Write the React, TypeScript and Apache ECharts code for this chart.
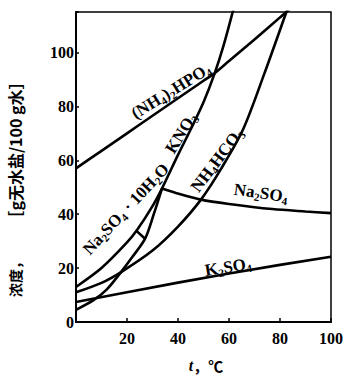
import React, { useEffect, useRef } from 'react';
import * as echarts from 'echarts';

// temperature (°C) / concentration (g anhydrous salt per 100 g water)
const xTickValues = [0, 20, 40, 60, 80, 100];
const yTickValues = [0, 20, 40, 60, 80, 100];

const nh42hpo4 = [[0, 57], [10, 63.5], [20, 70], [30, 76.5], [40, 83], [50, 89.5], [54.4, 92.3], [60, 96.8], [70, 104.8], [80, 113], [84, 116.2]];
const kno3 = [[0, 13], [10, 20], [20, 29.5], [24, 34.2], [30, 43], [33.7, 49.5], [40, 62], [45, 71.5], [50, 81.5], [54.4, 92.3], [58, 103], [62, 117]];
const nh4hco3 = [[0, 11], [10, 14.5], [18, 18.7], [30, 26.5], [40, 35.4], [49, 45.4], [57, 57], [65.5, 71.4], [74, 92.5], [82.5, 115], [84, 119]];
const na2so4Hydrate = [[0, 4.5], [7, 8.2], [12, 12], [17.8, 18.7], [22, 24], [27.1, 30.9], [30.5, 40], [33.7, 49.5]];
const na2so4 = [[33.7, 49.5], [39.4, 47.8], [49, 45.4], [60, 43.8], [77, 41.9], [90, 41], [100, 40.4]];
const k2so4 = [[0, 7.4], [20, 11], [40, 14.6], [60, 18], [80, 21.2], [100, 24.2]];
const connector = [[23.7, 33.8], [27.1, 30.9]];

const SERIF = 'Liberation Serif';
const CJK = 'Noto Sans CJK SC';

const richStyles = {
  n: { fontSize: 17, fontFamily: SERIF, fontWeight: 'bold', fill: '#000' },
  s: { fontSize: 11, fontFamily: SERIF, fontWeight: 'bold', fill: '#000', padding: [9, 0, 0, 0] },
};

function label(text: string, x: number, y: number, deg: number) {
  return {
    type: 'text',
    x,
    y,
    rotation: (deg * Math.PI) / 180,
    style: { text, rich: richStyles, align: 'center', verticalAlign: 'middle', fill: '#000' },
  };
}

function lineSeries(name: string, data: number[][], smooth: number | boolean = 0.3) {
  return {
    name,
    type: 'line',
    data,
    smooth,
    showSymbol: false,
    symbol: 'none',
    lineStyle: { color: '#000', width: 2.6 },
    clip: true,
  };
}

export default function App() {
  const ref = useRef<HTMLDivElement>(null);
  useEffect(() => {
    const chart = echarts.init(ref.current!, null, { renderer: 'svg' });
    chart.setOption({
      animation: false,
      backgroundColor: '#fff',
      grid: { left: 76, right: 8, top: 12, bottom: 53, show: true, borderColor: '#000', borderWidth: 1.5 },
      xAxis: {
        type: 'value',
        min: 0,
        max: 100,
        interval: 20,
        axisLine: { show: true, lineStyle: { color: '#000', width: 2 } },
        axisTick: { show: true, inside: true, length: 4, lineStyle: { color: '#000', width: 1.5 } },
        splitLine: { show: false },
        axisLabel: {
          margin: 8,
          color: '#000',
          fontFamily: SERIF,
          fontWeight: 'bold',
          fontSize: 16,
          formatter: (v: number) => (xTickValues.includes(v) && v !== 0 ? String(v) : ''),
        },
      },
      yAxis: {
        type: 'value',
        min: 0,
        max: 115,
        interval: 20,
        axisLine: { show: true, lineStyle: { color: '#000', width: 2 } },
        axisTick: { show: true, inside: true, length: 3, lineStyle: { color: '#000', width: 1.5 } },
        splitLine: { show: false },
        axisLabel: {
          margin: 2,
          color: '#000',
          fontFamily: SERIF,
          fontWeight: 'bold',
          fontSize: 16,
          formatter: (v: number) => (yTickValues.includes(v) ? String(v) : ''),
        },
      },
      series: [
        lineSeries('(NH4)2HPO4', nh42hpo4),
        lineSeries('KNO3', kno3),
        lineSeries('NH4HCO3', nh4hco3),
        lineSeries('Na2SO4·10H2O', na2so4Hydrate),
        lineSeries('Na2SO4', na2so4),
        lineSeries('K2SO4', k2so4, false),
        lineSeries('connector', connector, false),
      ],
      graphic: [
        label('{n|(NH}{s|4}{n|)}{s|2}{n|HPO}{s|4}', 171, 91, 32),
        label('{n|Na}{s|2}{n|SO}{s|4}{n| · 10H}{s|2}{n|O}', 126, 209, 47),
        label('{n|KNO}{s|3}', 181, 133, 58),
        label('{n|NH}{s|4}{n|HCO}{s|3}', 217, 160, 53),
        label('{n|Na}{s|2}{n|SO}{s|4}', 261, 193, -8),
        label('{n|K}{s|2}{n|SO}{s|4}', 228, 267, 9),
        {
          type: 'text',
          x: 15,
          y: 276,
          rotation: Math.PI / 2,
          style: { text: '浓度，', font: `bold 14px "${CJK}"`, fill: '#000', align: 'center', verticalAlign: 'middle' },
        },
        {
          type: 'text',
          x: 15,
          y: 150,
          rotation: Math.PI / 2,
          style: { text: '［g无水盐/100 g水］', font: `bold 16px "${CJK}"`, fill: '#000', align: 'center', verticalAlign: 'middle' },
        },
        {
          type: 'text',
          x: 206,
          y: 365,
          style: {
            text: '{i|t}{c|，℃}',
            align: 'center',
            verticalAlign: 'middle',
            rich: {
              i: { fontSize: 16, fontFamily: SERIF, fontStyle: 'italic', fontWeight: 'bold', fill: '#000' },
              c: { fontSize: 15, fontFamily: CJK, fontWeight: 'bold', fill: '#000' },
            },
          },
        },
      ],
    });
    return () => chart.dispose();
  }, []);
  return <div ref={ref} style={{ position: 'absolute', left: 0, top: 0, width: 346, height: 375 }} />;
}
